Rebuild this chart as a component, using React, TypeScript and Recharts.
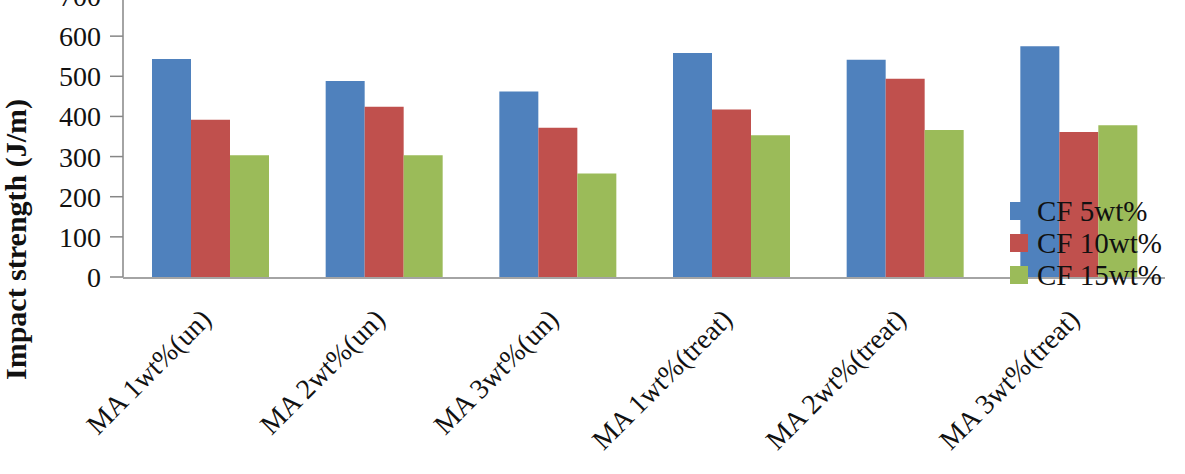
import { BarChart, Bar, XAxis, YAxis, Legend } from "recharts";

const categories = [
  "MA 1wt%(un)",
  "MA 2wt%(un)",
  "MA 3wt%(un)",
  "MA 1wt%(treat)",
  "MA 2wt%(treat)",
  "MA 3wt%(treat)",
];
const seriesNames = ["CF 5wt%", "CF 10wt%", "CF 15wt%"];
const cf5 = [543, 488, 462, 558, 541, 575];
const cf10 = [392, 424, 372, 417, 494, 361];
const cf15 = [303, 303, 258, 353, 366, 378];
const yTicks = [0, 100, 200, 300, 400, 500, 600, 700];
const boundaryTicks = [0, 1, 2, 3, 4, 5, 6];

const FONT = '"Liberation Serif", "Times New Roman", serif';
const AXIS = "#868686";

const data = categories.map((name, i) => ({
  name,
  [seriesNames[0]]: cf5[i],
  [seriesNames[1]]: cf10[i],
  [seriesNames[2]]: cf15[i],
}));

function CategoryTick(props: any) {
  const { x, y, payload } = props;
  return (
    <text
      transform={`translate(${x + 3}, ${y + 44}) rotate(-45)`}
      textAnchor="end"
      fontFamily={FONT}
      fontSize={28}
      fill="#111"
    >
      {payload.value}
    </text>
  );
}

function LegendBox(props: any) {
  const items = [...(props.payload || [])].sort(
    (a: any, b: any) => seriesNames.indexOf(a.value) - seriesNames.indexOf(b.value)
  );
  return (
    <div style={{ fontFamily: FONT, fontSize: 29, color: "#111" }}>
      {items.map((p: any) => (
        <div
          key={p.value}
          style={{ display: "flex", alignItems: "center", height: 32 }}
        >
          <span
            style={{
              width: 18,
              height: 18,
              background: p.color,
              marginRight: 9,
              display: "inline-block",
            }}
          />
          <span style={{ lineHeight: "32px" }}>{p.value}</span>
        </div>
      ))}
    </div>
  );
}

function YLabel(props: any) {
  const { viewBox } = props;
  const cx = viewBox.x - 25;
  const cy = viewBox.y + viewBox.height / 2 + 103;
  return (
    <text
      transform={`translate(${cx}, ${cy}) rotate(-90)`}
      textAnchor="middle"
      dominantBaseline="central"
      fontFamily={FONT}
      fontWeight="bold"
      fontSize={30}
      fill="#111"
    >
      Impact strength (J/m)
    </text>
  );
}

export default function App() {
  return (
    <div
      style={{
        position: "absolute",
        left: 0,
        top: 0,
        width: 1185,
        height: 474,
        overflow: "hidden",
        background: "#fff",
      }}
    >
      <div style={{ position: "absolute", left: 0, top: -20 }}>
        <BarChart
          width={1185}
          height={494}
          data={data}
          margin={{ top: 16, right: 20, bottom: 195, left: 40 }}
          barCategoryGap="16.7%"
          barGap={0}
        >
          <XAxis
            xAxisId="bounds"
            type="number"
            domain={[0, 6]}
            ticks={boundaryTicks}
            tick={false}
            height={1}
            axisLine={{ stroke: AXIS, strokeWidth: 1.5 }}
            tickLine={{ stroke: AXIS, strokeWidth: 1.5 }}
            tickSize={13}
          />
          <XAxis
            dataKey="name"
            height={1}
            axisLine={false}
            tickLine={false}
            tickSize={0}
            tickMargin={0}
            interval={0}
            tick={<CategoryTick />}
          />
          <YAxis
            domain={[0, 700]}
            ticks={yTicks}
            interval={0}
            width={83}
            axisLine={{ stroke: AXIS, strokeWidth: 1.5 }}
            tickLine={{ stroke: AXIS, strokeWidth: 1.5 }}
            tickSize={13}
            tickMargin={9}
            tick={{ fontFamily: FONT, fontSize: 28, fill: "#111" }}
            label={<YLabel />}
          />
          <Legend
            layout="vertical"
            align="center"
            verticalAlign="middle"
            content={<LegendBox />}
            wrapperStyle={{ position: "absolute", left: 1010, top: 215, width: 175 }}
          />
          <Bar dataKey={seriesNames[0]} fill="#4F81BD" isAnimationActive={false} />
          <Bar dataKey={seriesNames[1]} fill="#C0504D" isAnimationActive={false} />
          <Bar dataKey={seriesNames[2]} fill="#9BBB59" isAnimationActive={false} />
        </BarChart>
      </div>
    </div>
  );
}
